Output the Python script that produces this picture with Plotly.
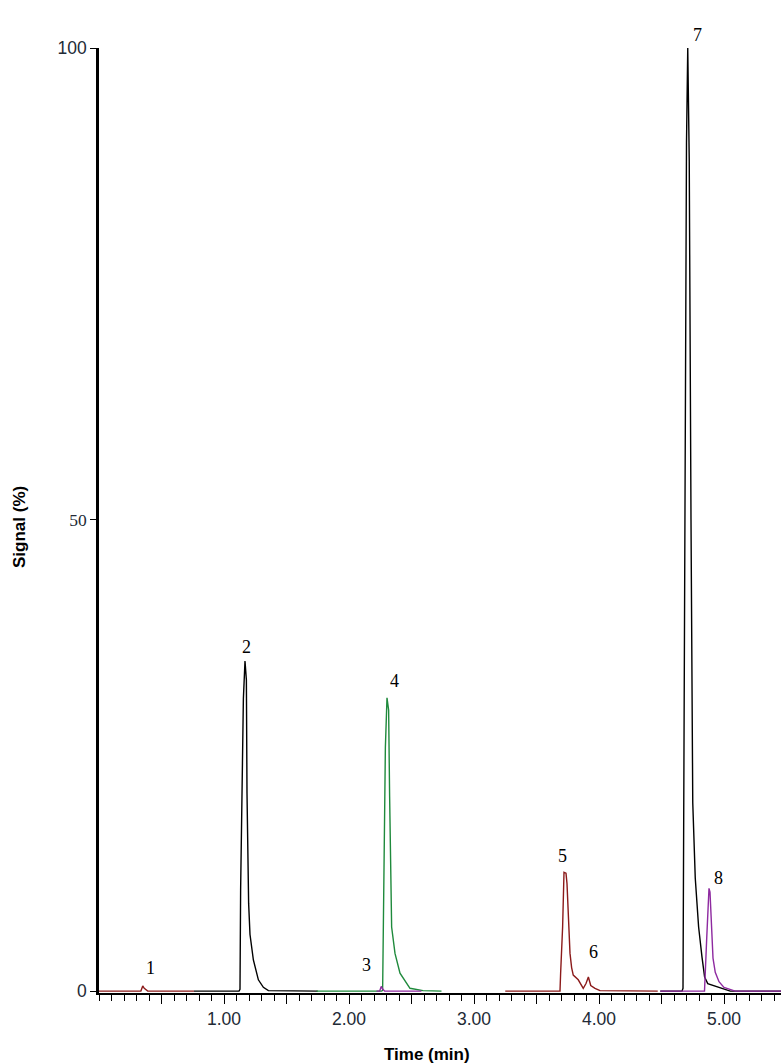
import plotly.graph_objects as go

# ---- data (time in min, signal in %) ----
seg1_time = [0.00, 0.335, 0.350, 0.362, 0.390, 0.76]
seg1_sig = [0.0, 0.0, 0.55, 0.30, 0.0, 0.0]

seg2_time = [0.76, 1.120, 1.128, 1.133, 1.155, 1.168, 1.179, 1.184, 1.197, 1.208,
             1.235, 1.275, 1.315, 1.355, 1.75]
seg2_sig = [0.0, 0.0, 0.2, 10.7, 31.0, 35.0, 33.0, 21.0, 9.3, 6.0,
            3.3, 1.2, 0.4, 0.05, 0.0]

seg3_time = [1.74, 2.262, 2.269, 2.277, 2.291, 2.304, 2.317, 2.325, 2.333, 2.341,
             2.368, 2.408, 2.488, 2.592, 2.74]
seg3_sig = [0.0, 0.0, 0.1, 10.7, 25.8, 31.1, 29.8, 20.6, 11.0, 6.8,
            4.0, 1.9, 0.3, 0.05, 0.0]

seg4_time = [2.22, 2.245, 2.258, 2.268, 2.285, 2.58]
seg4_sig = [0.0, 0.0, 0.5, 0.25, 0.0, 0.0]

seg5_time = [3.25, 3.688, 3.693, 3.709, 3.720, 3.736, 3.744, 3.755, 3.768, 3.781,
             3.794, 3.834, 3.874, 3.896, 3.915, 3.934, 3.968, 4.008, 4.47]
seg5_sig = [0.0, 0.0, 1.9, 6.8, 12.6, 12.5, 11.4, 7.5, 4.0, 2.5,
            1.7, 1.2, 0.3, 0.8, 1.5, 0.6, 0.3, 0.05, 0.0]

seg6_time = [4.49, 4.664, 4.672, 4.676, 4.688, 4.700, 4.710, 4.716, 4.722, 4.736,
             4.750, 4.770, 4.797, 4.824, 4.845, 4.870, 4.970, 5.050, 5.456]
seg6_sig = [0.0, 0.0, 0.3, 13.0, 50.0, 90.0, 100.0, 95.0, 88.0, 50.0,
            20.0, 12.0, 6.8, 3.6, 1.5, 0.8, 0.4, 0.0, 0.0]

seg7_time = [4.49, 4.844, 4.862, 4.880, 4.888, 4.901, 4.912, 4.930, 4.960, 5.000,
             5.090, 5.456]
seg7_sig = [0.0, 0.0, 5.7, 10.9, 10.5, 7.0, 3.5, 2.0, 1.0, 0.4, 0.0, 0.0]

peak_labels = ["1", "2", "3", "4", "5", "6", "7", "8"]
label_time = [0.408, 1.182, 2.136, 2.360, 3.710, 3.955, 4.786, 4.954]
label_sig = [2.44, 36.5, 2.76, 32.9, 14.3, 4.2, 102.7, 11.95]

x_tick_vals = [0.5, 1.0, 1.5, 2.0, 2.5, 3.0, 3.5, 4.0, 4.5, 5.0]
x_tick_text = ["", "1.00", "", "2.00", "", "3.00", "", "4.00", "", "5.00"]
y_tick_vals = [0, 50, 100]
y_tick_text = ["0", '<span style="font-family:Liberation Serif">50</span>', "100"]

RED = "#8b1a1a"
BLACK = "#000000"
GREEN = "#1f8a3c"
PURPLE = "#8e2aa0"

segments = [
    (seg1_time, seg1_sig, RED),
    (seg2_time, seg2_sig, BLACK),
    (seg3_time, seg3_sig, GREEN),
    (seg4_time, seg4_sig, PURPLE),
    (seg5_time, seg5_sig, RED),
    (seg6_time, seg6_sig, BLACK),
    (seg7_time, seg7_sig, PURPLE),
]

fig = go.Figure()
for t, s, c in segments:
    fig.add_trace(go.Scatter(x=t, y=s, mode="lines",
                             line=dict(color=c, width=1.4),
                             showlegend=False, hoverinfo="skip"))

X_MAX = 5.456
Y_MIN, Y_MAX = -0.2, 100.0

annotations = []
for lab, t, s in zip(peak_labels, label_time, label_sig):
    if s > Y_MAX:
        yy = (s - Y_MIN) / (Y_MAX - Y_MIN)
        annotations.append(dict(x=t, y=yy, xref="x", yref="paper", text=lab,
                                showarrow=False,
                                font=dict(family="Liberation Serif", size=18, color="black")))
    else:
        annotations.append(dict(x=t, y=s, xref="x", yref="y", text=lab,
                                showarrow=False,
                                font=dict(family="Liberation Serif", size=18, color="black")))

annotations.append(dict(x=375.5 / 781, y=0.0, xref="paper", yref="paper",
                        xanchor="center", yanchor="middle",
                        yshift=-(1054 - 993),
                        text="<b>Time (min)</b>", showarrow=False,
                        font=dict(family="Liberation Sans", size=17, color="black")))
annotations.append(dict(x=0, y=(993 - 527) / 945, xref="paper", yref="paper",
                        xanchor="center", yanchor="middle",
                        xshift=-(99 - 19), textangle=-90,
                        text="<b>Signal (%)</b>", showarrow=False,
                        font=dict(family="Liberation Sans", size=17, color="black")))

fig.update_layout(
    width=781, height=1063,
    margin=dict(l=99, r=0, t=48, b=70, pad=0),
    paper_bgcolor="white", plot_bgcolor="white",
    annotations=annotations,
    xaxis=dict(range=[0, X_MAX], showgrid=False, zeroline=False,
               showline=True, linecolor="black", linewidth=2,
               ticks="outside", tickmode="array", tickvals=x_tick_vals,
               ticktext=x_tick_text, ticklen=9, tickwidth=1.4, tickcolor="black",
               tickfont=dict(family="Liberation Sans", size=17.5, color="#222a36"),
               minor=dict(tickmode="linear", tick0=0, dtick=0.1, ticks="outside",
                          ticklen=6, tickwidth=1.4, tickcolor="black", showgrid=False)),
    yaxis=dict(range=[Y_MIN, Y_MAX], showgrid=False, zeroline=False,
               showline=True, linecolor="black", linewidth=2.5,
               ticks="outside", tickmode="array", tickvals=y_tick_vals,
               ticktext=y_tick_text, ticklen=6, tickwidth=1.4, tickcolor="black",
               tickfont=dict(family="Liberation Sans", size=17.5, color="#222a36")),
)

fig.write_html(
    "out.html",
    config={"displayModeBar": False},
    post_script="document.body.style.margin='0';document.body.style.overflow='hidden';",
)
